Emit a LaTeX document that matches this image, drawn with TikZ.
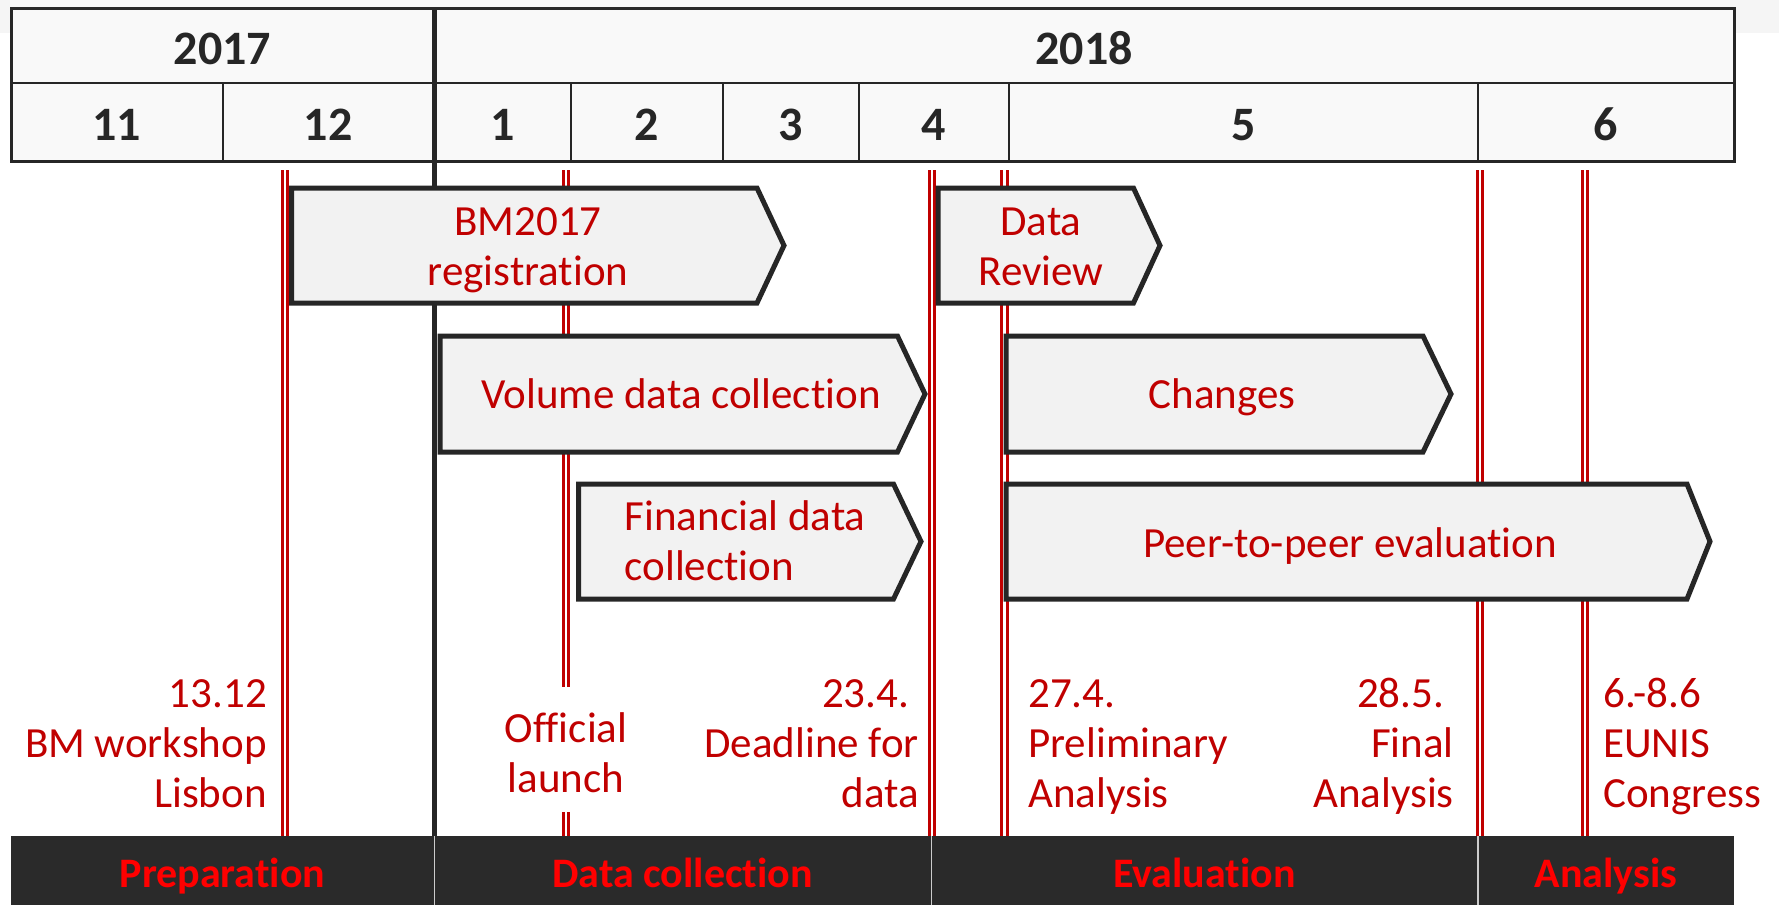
\documentclass[tikz,border=0pt]{standalone}
\usepackage{fontspec}
\setmainfont{Carlito}[Ligatures=NoCommon]
\definecolor{dkred}{HTML}{C00000}
\definecolor{brred}{HTML}{FF0000}
\definecolor{dk}{HTML}{262626}
\definecolor{boxfill}{HTML}{F2F2F2}
\definecolor{hdrfill}{HTML}{F9F9F9}
\definecolor{bandfill}{HTML}{F5F5F5}
\definecolor{barfill}{HTML}{2A2A2A}
\begin{document}
\begin{tikzpicture}[x=1pt,y=-1pt,
  lbl/.style={text=dkred, font=\fontsize{43}{50}\selectfont, inner sep=0pt},
  hdr/.style={text=dk, font=\fontsize{48}{58}\selectfont\bfseries, inner sep=0pt},
  phase/.style={text=brred, font=\fontsize{42}{50}\selectfont\bfseries, inner sep=0pt},
  msline/.style={draw=dkred, line width=3pt, double=white, double distance=2.5pt},
  task/.style={fill=boxfill, draw=dk, line width=5pt, line join=miter},
  grid/.style={draw=dk, line width=2pt},
]
\useasboundingbox (0,0) rectangle (1779,906);
\fill[bandfill] (0,0) rectangle (1779,33);
% header table
\draw[fill=hdrfill, draw=dk, line width=3pt] (11,8) rectangle (1734,161);
\draw[grid] (11,83) -- (1734,83);
\foreach \x in {222.5,570.5,722.5,858.5,1009,1478}
  \draw[grid] (\x,83) -- (\x,161);
\node[hdr, anchor=base] (y17) at (222.5,64) {2017};
\node[hdr, anchor=base] (y18) at (1084,64) {2018};
\node[hdr, anchor=base] (m11) at (116.7,140) {11};
\node[hdr, anchor=base] (m12) at (328,140) {12};
\node[hdr, anchor=base] (m1) at (502.5,140) {1};
\node[hdr, anchor=base] (m2) at (646.5,140) {2};
\node[hdr, anchor=base] (m3) at (790.5,140) {3};
\node[hdr, anchor=base] (m4) at (933.7,140) {4};
\node[hdr, anchor=base] (m5) at (1243.5,140) {5};
\node[hdr, anchor=base] (m6) at (1606,140) {6};
% year divider
\draw[dk, line width=5pt] (434,8) -- (434,836);
% milestone lines
\draw[msline] (285,170) -- (285,836);
\draw[msline] (566,170) -- (566,687);
\draw[msline] (566,812) -- (566,836);
\draw[msline] (932,170) -- (932,836);
\draw[msline] (1004.5,170) -- (1004.5,836);
\draw[msline] (1480,170) -- (1480,836);
\draw[msline] (1585,170) -- (1585,836);
% task chevrons
\draw[task] (291.5,188) -- (757,188) -- (784,245.5) -- (757,303) -- (291.5,303) -- cycle;
\draw[task] (938,188) -- (1133.5,188) -- (1160,245.5) -- (1133.5,303) -- (938,303) -- cycle;
\draw[task] (440,336) -- (897.5,336) -- (925,394) -- (897.5,452) -- (440,452) -- cycle;
\draw[task] (1006,336) -- (1423,336) -- (1451,394) -- (1423,452) -- (1006,452) -- cycle;
\draw[task] (578.5,484) -- (893.5,484) -- (921,541.5) -- (893.5,599) -- (578.5,599) -- cycle;
\draw[task] (1006,484) -- (1687,484) -- (1710,541.5) -- (1687,599) -- (1006,599) -- cycle;
\node[lbl, anchor=base, align=center] (t1) at (528,285) {BM2017\\registration};
\node[lbl, anchor=base, align=center] (t2) at (1041,285) {Data\\Review};
\node[lbl, anchor=base] (t3) at (681,408) {Volume data collection};
\node[lbl, anchor=base] (t4) at (1222,408) {Changes};
\node[lbl, anchor=base west, align=left] (t5) at (624.5,580) {Financial data\\collection};
\node[lbl, anchor=base] (t6) at (1350,557) {Peer-to-peer evaluation};
% milestone labels
\node[lbl, anchor=base east, align=right] (l1) at (267,807) {13.12\\BM workshop\\Lisbon};
\node[lbl, anchor=base, align=center] (l2) at (566,792) {Official\\launch};
\node[lbl, anchor=base east, align=right] (l3) at (919,807) {23.4.\kern0.226em\\Deadline for\\data};
\node[lbl, anchor=base west, align=left] (l4) at (1028,807) {27.4.\\Preliminary\\Analysis};
\node[lbl, anchor=base east, align=right] (l5) at (1454,807) {28.5.\kern0.226em\\Final\\Analysis};
\node[lbl, anchor=base west, align=left] (l6) at (1603,807) {6.-8.6\\EUNIS\\Congress};
% phase bar
\fill[barfill] (11,836) rectangle (1734,905);
\foreach \x in {434.5,931.5,1478}
  \draw[white!80!black, line width=1.5pt] (\x,836) -- (\x,905);
\node[phase, anchor=base] (p1) at (222.5,887) {Preparation};
\node[phase, anchor=base] (p2) at (682.5,887) {Data collection};
\node[phase, anchor=base] (p3) at (1204.5,887) {Evaluation};
\node[phase, anchor=base] (p4) at (1606,887) {Analysis};
\end{tikzpicture}
\end{document}
